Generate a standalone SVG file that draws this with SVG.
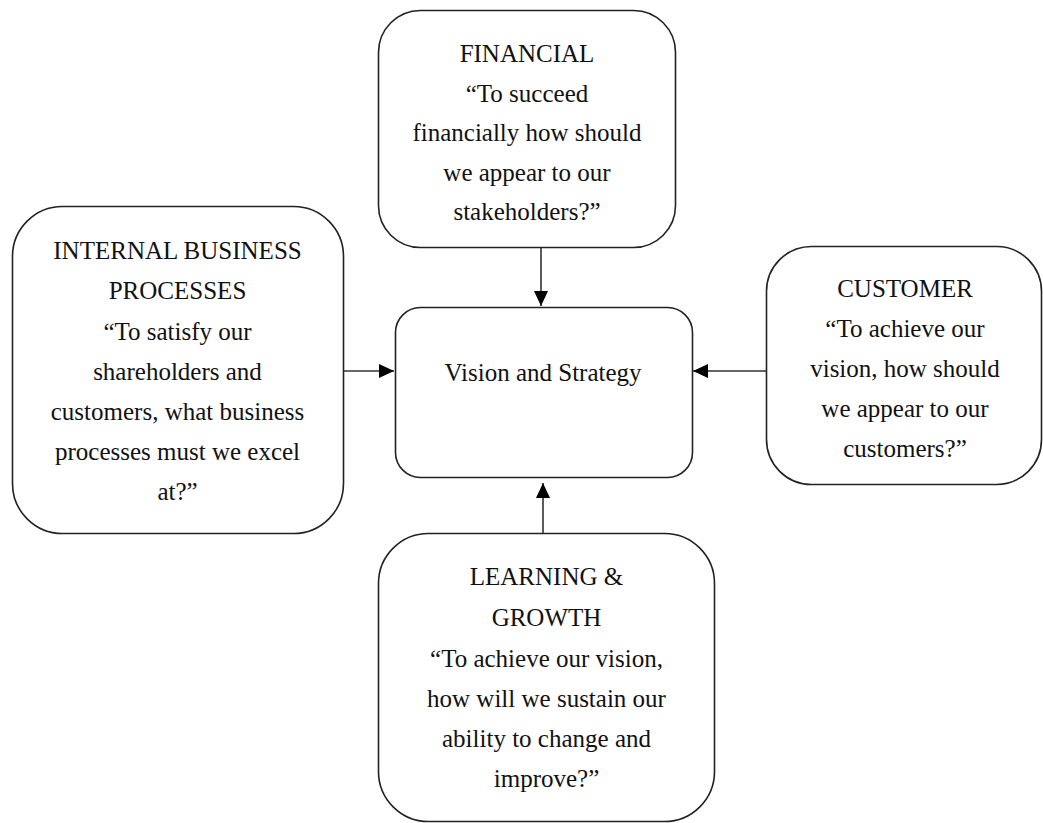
<svg xmlns="http://www.w3.org/2000/svg" width="1043" height="823" viewBox="0 0 1043 823">
<style>
.box{fill:#fff;stroke:#222;stroke-width:1.6}
.t{font-family:'Liberation Serif','Times New Roman',serif;font-size:25px;fill:#111;text-anchor:middle}
.c{stroke:#333;stroke-width:1.6;fill:none}
</style>
<defs>
<marker id="ah" viewBox="0 0 15 14" refX="15" refY="7" markerWidth="15" markerHeight="14" markerUnits="userSpaceOnUse" orient="auto">
<path d="M0,0 L15,7 L0,14 Z" fill="#000"/>
</marker>
</defs>
<rect width="1043" height="823" fill="#fff"/>
<g id="connectors">
<line class="c" x1="541" y1="247" x2="541" y2="306" marker-end="url(#ah)"/>
<line class="c" x1="343" y1="371" x2="394" y2="371" marker-end="url(#ah)"/>
<line class="c" x1="766" y1="371" x2="693" y2="371" marker-end="url(#ah)"/>
<line class="c" x1="543" y1="533" x2="543" y2="483" marker-end="url(#ah)"/>
</g>
<g id="financial">
<rect class="box" x="378.5" y="10.5" width="297" height="237" rx="42"/>
<text class="t" x="527" y="62">FINANCIAL</text>
<text class="t" x="527" y="102">“To succeed</text>
<text class="t" x="527" y="141">financially how should</text>
<text class="t" x="527" y="181">we appear to our</text>
<text class="t" x="527" y="220">stakeholders?”</text>
</g>
<g id="internal">
<rect class="box" x="12.5" y="206.5" width="331" height="327" rx="50"/>
<text class="t" x="177.5" y="259">INTERNAL BUSINESS</text>
<text class="t" x="177.5" y="299">PROCESSES</text>
<text class="t" x="177.5" y="340">“To satisfy our</text>
<text class="t" x="177.5" y="380">shareholders and</text>
<text class="t" x="177.5" y="420">customers, what business</text>
<text class="t" x="177.5" y="460">processes must we excel</text>
<text class="t" x="177.5" y="500">at?”</text>
</g>
<g id="vision">
<rect class="box" x="395.5" y="307.5" width="297" height="170" rx="25"/>
<text class="t" x="543" y="381">Vision and Strategy</text>
</g>
<g id="customer">
<rect class="box" x="766.5" y="246.5" width="275" height="238" rx="45"/>
<text class="t" x="905" y="297">CUSTOMER</text>
<text class="t" x="905" y="337">“To achieve our</text>
<text class="t" x="905" y="377">vision, how should</text>
<text class="t" x="905" y="417">we appear to our</text>
<text class="t" x="905" y="457">customers?”</text>
</g>
<g id="learning">
<rect class="box" x="378.5" y="533.5" width="336" height="288" rx="50"/>
<text class="t" x="546.5" y="585">LEARNING &amp;</text>
<text class="t" x="546.5" y="626">GROWTH</text>
<text class="t" x="546.5" y="667">“To achieve our vision,</text>
<text class="t" x="546.5" y="707">how will we sustain our</text>
<text class="t" x="546.5" y="747">ability to change and</text>
<text class="t" x="546.5" y="787">improve?”</text>
</g>
</svg>
